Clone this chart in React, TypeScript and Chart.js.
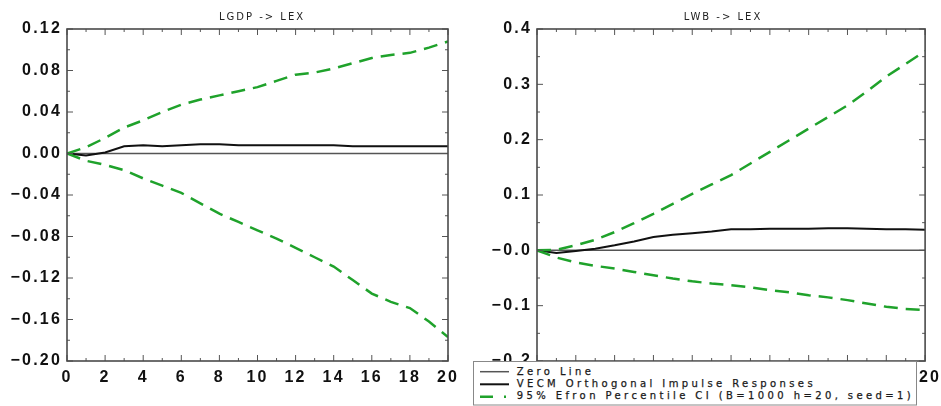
import React, { useEffect, useRef } from "react";
import { Chart, registerables } from "chart.js";

Chart.register(...registerables);

// ---------- data ----------
const horizons = [0, 1, 2, 3, 4, 5, 6, 7, 8, 9, 10, 11, 12, 13, 14, 15, 16, 17, 18, 19, 20];
const zeroLine = [0, 0, 0, 0, 0, 0, 0, 0, 0, 0, 0, 0, 0, 0, 0, 0, 0, 0, 0, 0, 0];

const gdpResponse = [0, -0.002, 0.001, 0.007, 0.008, 0.007, 0.008, 0.009, 0.009, 0.008, 0.008, 0.008, 0.008, 0.008, 0.008, 0.007, 0.007, 0.007, 0.007, 0.007, 0.007];
const gdpUpper = [0, 0.006, 0.015, 0.025, 0.032, 0.04, 0.047, 0.052, 0.056, 0.06, 0.064, 0.07, 0.076, 0.078, 0.082, 0.087, 0.092, 0.095, 0.097, 0.102, 0.108];
const gdpLower = [0, -0.007, -0.011, -0.016, -0.024, -0.031, -0.038, -0.048, -0.058, -0.066, -0.074, -0.082, -0.091, -0.1, -0.109, -0.122, -0.135, -0.143, -0.149, -0.162, -0.177];

const wbResponse = [0, -0.005, -0.001, 0.003, 0.009, 0.016, 0.024, 0.028, 0.031, 0.034, 0.038, 0.038, 0.039, 0.039, 0.039, 0.04, 0.04, 0.039, 0.038, 0.038, 0.037];
const wbUpper = [0, 0.001, 0.009, 0.019, 0.033, 0.049, 0.066, 0.084, 0.102, 0.119, 0.136, 0.157, 0.178, 0.199, 0.22, 0.241, 0.262, 0.287, 0.314, 0.337, 0.36];
const wbLower = [0, -0.013, -0.022, -0.028, -0.033, -0.039, -0.045, -0.051, -0.056, -0.06, -0.063, -0.067, -0.072, -0.076, -0.081, -0.085, -0.09, -0.096, -0.102, -0.106, -0.108];

const xTickValues = [0, 2, 4, 6, 8, 10, 12, 14, 16, 18, 20];
const xTickLabels = ["0", "2", "4", "6", "8", "10", "12", "14", "16", "18", "20"];

const gdpYTickValues = [-0.2, -0.16, -0.12, -0.08, -0.04, 0, 0.04, 0.08, 0.12];
const gdpYTickLabels = ["\u22120.20", "\u22120.16", "\u22120.12", "\u22120.08", "\u22120.04", "0.00", "0.04", "0.08", "0.12"];
const gdpYMinor = [-0.18, -0.14, -0.1, -0.06, -0.02, 0.02, 0.06, 0.1];

const wbYTickValues = [-0.2, -0.1, 0, 0.1, 0.2, 0.3, 0.4];
const wbYTickLabels = ["\u22120.2", "\u22120.1", "\u22120.0", "0.1", "0.2", "0.3", "0.4"];
const wbYMinor = [-0.15, -0.05, 0.05, 0.15, 0.25, 0.35];

const legendLabels = [
  "Zero Line",
  "VECM Orthogonal Impulse Responses",
  "95% Efron Percentile CI (B=1000 h=20, seed=1)",
];

const GREEN = "#1fa22b";

// ---------- plugin: IDL-like frame, inward ticks, title ----------
const idlFrame = {
  id: "idlFrame",
  beforeDraw(chart: any) {
    chart.ctx.letterSpacing = "2.2px";
  },
  afterDraw(chart: any, _args: any, opts: any) {
    const { ctx, chartArea: a, scales } = chart;
    const x = scales.x;
    const y = scales.y;
    ctx.save();
    ctx.letterSpacing = "0px";
    ctx.strokeStyle = "#555";
    ctx.lineWidth = 1;
    const seg = (x1: number, y1: number, x2: number, y2: number) => {
      ctx.beginPath();
      ctx.moveTo(x1, y1);
      ctx.lineTo(x2, y2);
      ctx.stroke();
    };
    (opts.yMajor || []).forEach((v: number) => {
      const p = y.getPixelForValue(v);
      seg(a.left, p, a.left + 6, p);
      seg(a.right, p, a.right - 6, p);
    });
    (opts.yMinor || []).forEach((v: number) => {
      const p = y.getPixelForValue(v);
      seg(a.left, p, a.left + 3, p);
      seg(a.right, p, a.right - 3, p);
    });
    for (let h = 0; h <= 20; h++) {
      const p = x.getPixelForValue(h);
      const len = h % 2 === 0 ? 6 : 3;
      seg(p, a.bottom, p, a.bottom - len);
      seg(p, a.top, p, a.top + len);
    }
    ctx.lineWidth = 1.6;
    ctx.strokeStyle = "#4a4a4a";
    ctx.strokeRect(a.left, a.top, a.right - a.left, a.bottom - a.top);

    ctx.letterSpacing = "2px";
    ctx.font = '10px "DejaVu Sans"';
    ctx.fillStyle = "#222";
    ctx.textAlign = "center";
    ctx.textBaseline = "alphabetic";
    ctx.fillText(opts.title, opts.titleX, 20);
    ctx.restore();
  },
};

type PanelProps = {
  width: number;
  height: number;
  rightPad: number;
  title: string;
  titleX: number;
  xLabelOffset: number;
  response: number[];
  upper: number[];
  lower: number[];
  yMin: number;
  yMax: number;
  yTicks: number[];
  yLabels: string[];
  yMinor: number[];
};

function Panel(p: PanelProps) {
  const ref = useRef<HTMLCanvasElement | null>(null);
  useEffect(() => {
    if (!ref.current) return;
    const pts = (arr: number[]) => horizons.map((h, i) => ({ x: h, y: arr[i] }));
    const tickFont = { family: "Liberation Sans", size: 16, weight: "bold" as const };
    const chart = new Chart(ref.current, {
      type: "line",
      data: {
        datasets: [
          { label: legendLabels[2], data: pts(p.upper), borderColor: GREEN, borderWidth: 2.5, borderDash: [14, 8], pointRadius: 0, tension: 0 },
          { label: legendLabels[2], data: pts(p.lower), borderColor: GREEN, borderWidth: 2.5, borderDash: [14, 8], pointRadius: 0, tension: 0 },
          { label: legendLabels[1], data: pts(p.response), borderColor: "#111", borderWidth: 2, pointRadius: 0, tension: 0 },
          { label: legendLabels[0], data: pts(zeroLine), borderColor: "#555", borderWidth: 1.5, pointRadius: 0, tension: 0 },
        ],
      },
      options: {
        animation: false,
        responsive: false,
        maintainAspectRatio: false,
        layout: { padding: { left: 0, right: p.rightPad, top: 29, bottom: 0 } },
        plugins: {
          legend: { display: false },
          tooltip: { enabled: false },
          title: { display: false },
          idlFrame: { title: p.title, titleX: p.titleX, yMajor: p.yTicks, yMinor: p.yMinor },
        } as any,
        scales: {
          x: {
            type: "linear",
            min: 0,
            max: 20,
            afterBuildTicks: (s: any) => {
              s.ticks = xTickValues.map((v) => ({ value: v }));
            },
            afterFit: (s: any) => {
              s.height = p.height - 361;
            },
            grid: { display: false, drawTicks: false },
            border: { display: false },
            ticks: {
              padding: 7,
              labelOffset: p.xLabelOffset,
              autoSkip: false,
              maxRotation: 0,
              color: "#111",
              font: tickFont,
              callback: (_v: any, i: number) => xTickLabels[i],
            },
          },
          y: {
            type: "linear",
            min: p.yMin,
            max: p.yMax,
            afterBuildTicks: (s: any) => {
              s.ticks = p.yTicks.map((v) => ({ value: v }));
            },
            afterFit: (s: any) => {
              s.width = 67;
            },
            grid: { display: false, drawTicks: false },
            border: { display: false },
            ticks: {
              padding: 5,
              autoSkip: false,
              color: "#111",
              font: tickFont,
              callback: (_v: any, i: number) => p.yLabels[i],
            },
          },
        },
      },
      plugins: [idlFrame as any],
    });
    return () => chart.destroy();
  }, []);
  return <canvas ref={ref} width={p.width} height={p.height} style={{ width: p.width, height: p.height, display: "block" }} />;
}

function Legend() {
  const textStyle = {
    fontFamily: '"DejaVu Sans", sans-serif',
    fontSize: 10,
    letterSpacing: 3.4,
    fill: "#1a1a1a",
    stroke: "#1a1a1a",
    strokeWidth: 0.25,
  } as any;
  return (
    <svg width={444} height={45} style={{ position: "absolute", left: 473, top: 361 }}>
      <rect x={0.5} y={0.5} width={443} height={43.5} fill="#fff" stroke="#888" strokeWidth={1} />
      <line x1={7} y1={10.7} x2={36} y2={10.7} stroke="#555" strokeWidth={1.5} />
      <line x1={7} y1={23.3} x2={36} y2={23.3} stroke="#111" strokeWidth={2} />
      <line x1={7} y1={35.7} x2={36} y2={35.7} stroke={GREEN} strokeWidth={2.5} strokeDasharray="13 11 2 20" />
      <text x={43.7} y={14} style={textStyle}>{legendLabels[0]}</text>
      <text x={43.7} y={26.3} style={textStyle}>{legendLabels[1]}</text>
      <text x={43.7} y={38.3} style={textStyle}>{legendLabels[2]}</text>
    </svg>
  );
}

export default function App() {
  return (
    <div style={{ position: "absolute", left: 0, top: 0, width: 941, height: 406, background: "#fff", overflow: "hidden" }}>
      <div style={{ position: "absolute", left: 0, top: 0 }}>
        <Panel
          width={470}
          height={406}
          rightPad={22}
          title="LGDP -> LEX"
          titleX={262}
          xLabelOffset={0}
          response={gdpResponse}
          upper={gdpUpper}
          lower={gdpLower}
          yMin={-0.2}
          yMax={0.12}
          yTicks={gdpYTickValues}
          yLabels={gdpYTickLabels}
          yMinor={gdpYMinor}
        />
      </div>
      <div style={{ position: "absolute", left: 470, top: 0 }}>
        <Panel
          width={471}
          height={406}
          rightPad={15}
          title="LWB -> LEX"
          titleX={253}
          xLabelOffset={5}
          response={wbResponse}
          upper={wbUpper}
          lower={wbLower}
          yMin={-0.2}
          yMax={0.4}
          yTicks={wbYTickValues}
          yLabels={wbYTickLabels}
          yMinor={wbYMinor}
        />
      </div>
      <Legend />
    </div>
  );
}
